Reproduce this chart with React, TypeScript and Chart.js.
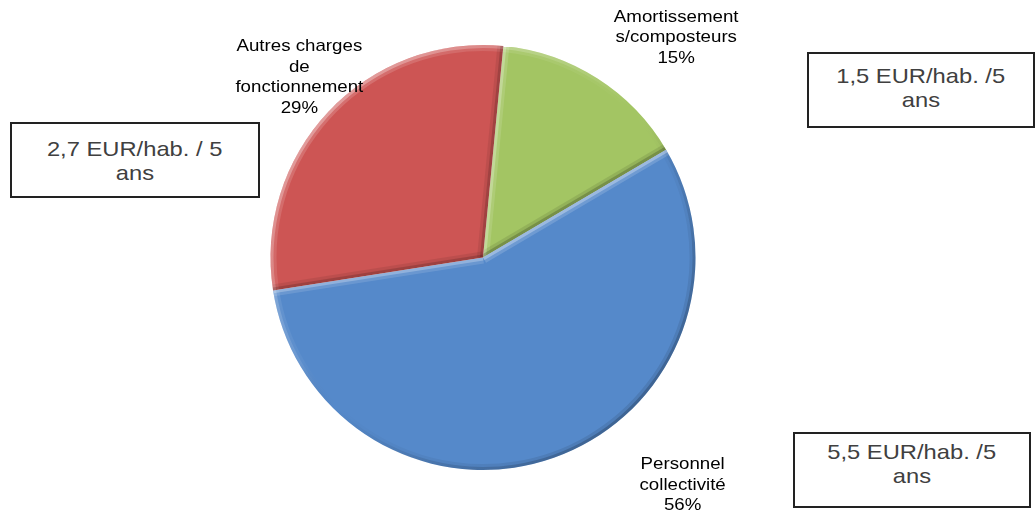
import React, { useEffect, useRef } from 'react';
import { Chart, registerables } from 'chart.js';

Chart.register(...registerables);

// ---- data ----
const categories = ['Amortissement s/composteurs', 'Personnel collectivité', 'Autres charges de fonctionnement'];
const labelLines = [['Amortissement', 's/composteurs'], ['Personnel', 'collectivité'], ['Autres charges', 'de', 'fonctionnement']];
const shares = [15, 56, 29];
const sliceColors = ['#A3C563', '#5589CA', '#CD5554'];
const boxTexts = [['2,7 EUR/hab. / 5', 'ans'], ['1,5 EUR/hab. /5', 'ans'], ['5,5 EUR/hab. /5', 'ans']];

// ---- layout / styling ----
const W = 1036;
const H = 510;
const FONT = '"Liberation Sans", Arial, sans-serif';
const labelOffsets: [number, number][] = [[79, -42], [128, 26], [-29, -36]];
const labelSize = 17;
const labelLH = 20.5;
const textStretch = 1.1;
const boxStyles = [
  { left: 10, top: 122, width: 250, height: 76, pad: 13 },
  { left: 807, top: 52, width: 228, height: 76, pad: 10 },
  { left: 793, top: 432, width: 238, height: 76, pad: 6 },
];

const bevelPlugin = {
  id: 'bevel',
  afterDatasetsDraw(chart: any) {
    const ctx: CanvasRenderingContext2D = chart.ctx;
    const meta = chart.getDatasetMeta(0);
    const light = (-135 * Math.PI) / 180;
    const shade = (a: number, k: number) => {
      const b = Math.cos(a - light);
      return b >= 0 ? `rgba(255,255,255,${(0.45 * b * k).toFixed(3)})` : `rgba(0,0,0,${(0.28 * -b * k).toFixed(3)})`;
    };
    meta.data.forEach((arc: any) => {
      const p = arc.getProps(['x', 'y', 'startAngle', 'endAngle', 'outerRadius'], true);
      const path = () => {
        ctx.beginPath();
        ctx.moveTo(p.x, p.y);
        ctx.arc(p.x, p.y, p.outerRadius, p.startAngle, p.endAngle);
        ctx.closePath();
      };
      ctx.save();
      path();
      ctx.clip();
      for (const [lw, k] of [[12, 0.35], [6, 0.7]] as [number, number][]) {
        // outer rim
        const g = (ctx as any).createConicGradient(0, p.x, p.y);
        for (let d = 0; d <= 360; d += 15) {
          const a = (d * Math.PI) / 180;
          g.addColorStop(d / 360, shade(a, k));
        }
        ctx.strokeStyle = g;
        ctx.lineWidth = lw;
        ctx.beginPath();
        ctx.arc(p.x, p.y, p.outerRadius, p.startAngle, p.endAngle);
        ctx.stroke();
        // radial edges
        const edges: [number, number][] = [
          [p.startAngle, p.startAngle - Math.PI / 2],
          [p.endAngle, p.endAngle + Math.PI / 2],
        ];
        for (const [ang, normal] of edges) {
          ctx.strokeStyle = shade(normal, k);
          ctx.beginPath();
          ctx.moveTo(p.x, p.y);
          ctx.lineTo(p.x + Math.cos(ang) * p.outerRadius, p.y + Math.sin(ang) * p.outerRadius);
          ctx.stroke();
        }
      }
      ctx.restore();
    });
  },
};

const labelPlugin = {
  id: 'sliceLabels',
  afterDatasetsDraw(chart: any) {
    const ctx: CanvasRenderingContext2D = chart.ctx;
    const meta = chart.getDatasetMeta(0);
    const values: number[] = chart.data.datasets[0].data;
    const total = values.reduce((s, v) => s + v, 0);
    ctx.save();
    ctx.fillStyle = '#000';
    ctx.font = `${labelSize}px ${FONT}`;
    ctx.textAlign = 'center';
    ctx.textBaseline = 'alphabetic';
    meta.data.forEach((arc: any, i: number) => {
      const p = arc.getProps(['x', 'y', 'startAngle', 'endAngle', 'outerRadius'], true);
      const mid = (p.startAngle + p.endAngle) / 2;
      const cx = p.x + Math.cos(mid) * p.outerRadius + labelOffsets[i][0];
      const cy = p.y + Math.sin(mid) * p.outerRadius + labelOffsets[i][1];
      const lines = [...labelLines[i], `${Math.round((values[i] / total) * 100)}%`];
      const y0 = cy - ((lines.length - 1) / 2) * labelLH;
      lines.forEach((ln, j) => {
        ctx.save();
        ctx.translate(cx, y0 + j * labelLH + 0.358 * labelSize);
        ctx.scale(textStretch, 1);
        ctx.fillText(ln, 0, 0);
        ctx.restore();
      });
    });
    ctx.restore();
  },
};

export default function App() {
  const ref = useRef<HTMLCanvasElement>(null);
  useEffect(() => {
    if (!ref.current) return;
    const chart = new Chart(ref.current, {
      type: 'pie',
      data: {
        labels: categories,
        datasets: [{ data: shares, backgroundColor: sliceColors, borderWidth: 0 }],
      },
      options: {
        responsive: false,
        animation: false,
        rotation: 5.5,
        layout: { padding: { left: 270.5, right: 340.5, top: 45, bottom: 40 } },
        plugins: { legend: { display: false }, tooltip: { enabled: false } },
      },
      plugins: [bevelPlugin, labelPlugin],
    });
    return () => chart.destroy();
  }, []);

  return (
    <div style={{ position: 'fixed', left: 0, top: 0, width: W, height: H, background: '#fff', overflow: 'hidden' }}>
      <canvas ref={ref} width={W} height={H} style={{ position: 'absolute', left: 0, top: 0 }} />
      {boxTexts.map((lines, i) => {
        const b = boxStyles[i];
        return (
          <div
            key={i}
            style={{
              position: 'absolute',
              left: b.left,
              top: b.top,
              width: b.width,
              height: b.height,
              boxSizing: 'border-box',
              border: '2px solid #222',
              background: '#fff',
              paddingTop: b.pad,
              fontFamily: FONT,
              fontSize: 21,
              lineHeight: '24px',
              color: '#404040',
              textAlign: 'center',
            }}
          >
            {lines.map((ln, j) => (
              <div key={j}>
                <span style={{ display: 'inline-block', transform: 'scaleX(1.13)', whiteSpace: 'nowrap' }}>{ln}</span>
              </div>
            ))}
          </div>
        );
      })}
    </div>
  );
}
